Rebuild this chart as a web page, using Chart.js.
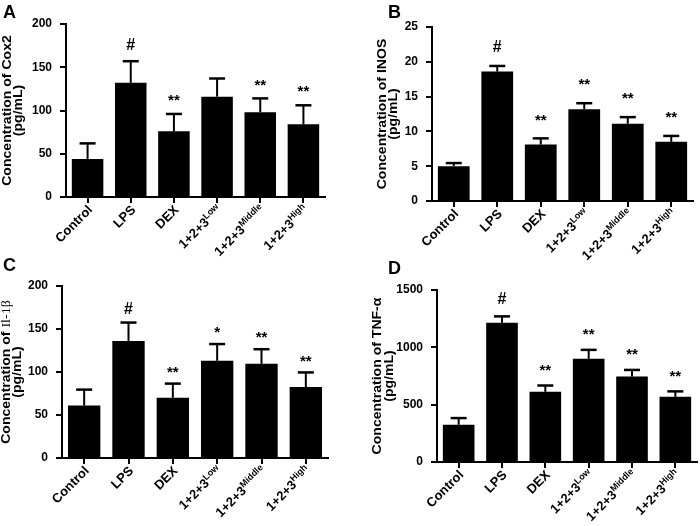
<!DOCTYPE html>
<html>
<head>
<meta charset="utf-8">
<script src="https://cdn.jsdelivr.net/npm/chart.js@4.4.0/dist/chart.umd.min.js"></script>
<style>
  body { margin: 0; background: #fff; }
  #wrap { position: relative; width: 700px; height: 526px; }
  #wrap canvas { position: absolute; }
  .tag { position: absolute; font: bold 18px "Liberation Sans", Arial, sans-serif; line-height: 1; color: #000; }
</style>
</head>
<body>
<div id="wrap">
  <canvas id="cA" width="350" height="263" style="left:0;top:0"></canvas>
  <canvas id="cB" width="350" height="263" style="left:350px;top:0"></canvas>
  <canvas id="cC" width="350" height="263" style="left:0;top:263px"></canvas>
  <canvas id="cD" width="350" height="263" style="left:350px;top:263px"></canvas>
  <div class="tag" style="left:3px;top:3px">A</div>
  <div class="tag" style="left:388px;top:3px">B</div>
  <div class="tag" style="left:3px;top:256px">C</div>
  <div class="tag" style="left:388px;top:259px">D</div>
</div>
<script>
//groups on the x axis, the dose goes in superscript
const categories = ['Control', 'LPS', 'DEX', '1+2+3', '1+2+3', '1+2+3'];
const dose = ['', '', '', 'Low', 'Middle', 'High'];

//A - Cox2
const cox2Mean = [44, 132, 76, 116, 98, 84];
const cox2Err = [18, 25, 20, 21, 16, 22];
const cox2Sig = ['', '#', '**', '', '**', '**'];

//B - INOS
const inosMean = [5.0, 18.6, 8.1, 13.2, 11.1, 8.5];
const inosErr = [0.45, 0.8, 0.9, 0.85, 0.95, 0.85];
const inosSig = ['', '#', '**', '**', '**', '**'];

//C - Il-1b
const il1bMean = [61, 136, 70, 113, 109.5, 82.5];
const il1bErr = [18.5, 21.5, 16.5, 19.5, 17, 17];
const il1bSig = ['', '#', '**', '*', '**', '**'];

//D - TNF-a
const tnfMean = [325, 1215, 612, 900, 745, 568];
const tnfErr = [58, 55, 55, 78, 58, 48];
const tnfSig = ['', '#', '**', '**', '**', '**'];

const FONT = '"Liberation Sans", Arial, sans-serif';
const TITLE_FONT = 'bold 12px ' + FONT;
const TICK_LEN = 6;

//one entry per panel, the layout numbers place the plot area inside its canvas
const panels = [
    { id: 'cA', mean: cox2Mean, err: cox2Err, sig: cox2Sig, max: 200, step: 50,
      title: [[{ t: 'Concentration of Cox2', f: TITLE_FONT }], [{ t: '(pg/mL)', f: TITLE_FONT }]],
      titleX: [8, 19], left: 66, top: 24, right: 325, bottom: 197, hashGap: 16, starGap: 15 },
    { id: 'cB', mean: inosMean, err: inosErr, sig: inosSig, max: 25, step: 5,
      title: [[{ t: 'Concentration of INOS', f: TITLE_FONT }], [{ t: '(pg/mL)', f: TITLE_FONT }]],
      titleX: [33, 44], left: 82, top: 27, right: 343, bottom: 201, hashGap: 18, starGap: 20 },
    { id: 'cC', mean: il1bMean, err: il1bErr, sig: il1bSig, max: 200, step: 50,
      title: [[{ t: 'Concentration of ', f: TITLE_FONT }, { t: 'Il-1β', f: '12px "Liberation Serif", "Times New Roman", serif' }],
              [{ t: '(pg/mL)', f: TITLE_FONT }]],
      titleX: [7, 18], left: 62, top: 23, right: 328, bottom: 195, hashGap: 13, starGap: 13 },
    { id: 'cD', mean: tnfMean, err: tnfErr, sig: tnfSig, max: 1500, step: 500,
      title: [[{ t: 'Concentration of TNF-α', f: TITLE_FONT }], [{ t: '(pg/mL)', f: TITLE_FONT }]],
      titleX: [28, 40], left: 87, top: 27, right: 347, bottom: 199, hashGap: 17, starGap: 17 },
];

//draws a line made of pieces with different fonts, centered on x=0
const drawSegments = (ctx, segs) => {
    let total = 0;
    segs.forEach((s) => { ctx.font = s.f; total += ctx.measureText(s.t).width; });
    let x = -total / 2;
    segs.forEach((s) => {
        ctx.font = s.f;
        ctx.fillText(s.t, x, 0);
        x += ctx.measureText(s.t).width;
    });
};

//error bars, stars, tick marks, rotated x labels with superscript and the y title
const decorPlugin = {
    id: 'decor',
    afterDatasetsDraw(chart, args, opts) {
        const p = opts.panel;
        const ctx = chart.ctx;
        const yScale = chart.scales.y;
        const meta = chart.getDatasetMeta(0);
        ctx.save();
        ctx.strokeStyle = '#000';
        ctx.fillStyle = '#000';
        meta.data.forEach((bar, i) => {
            const top = yScale.getPixelForValue(p.mean[i]);
            const errTop = yScale.getPixelForValue(p.mean[i] + p.err[i]);
            ctx.lineWidth = 2;
            ctx.beginPath();
            ctx.moveTo(bar.x, top);
            ctx.lineTo(bar.x, errTop);
            ctx.stroke();
            ctx.lineWidth = 2.5;
            ctx.beginPath();
            ctx.moveTo(bar.x - 8, errTop);
            ctx.lineTo(bar.x + 8, errTop);
            ctx.stroke();

            const s = p.sig[i];
            if (s) {
                ctx.textAlign = 'center';
                ctx.textBaseline = 'middle';
                if (s === '#') {
                    ctx.font = 'bold 16px ' + FONT;
                    ctx.fillText(s, bar.x, errTop - p.hashGap);
                } else {
                    ctx.font = 'bold 15px ' + FONT;
                    ctx.fillText(s, bar.x, errTop - p.starGap + 2);
                }
            }
        });
        ctx.restore();
    },
    afterDraw(chart, args, opts) {
        const p = opts.panel;
        const ctx = chart.ctx;
        const xScale = chart.scales.x;
        const yScale = chart.scales.y;
        const area = chart.chartArea;
        const axisY = area.bottom;
        ctx.save();
        ctx.strokeStyle = '#000';
        ctx.fillStyle = '#000';

        //tick marks on both axes
        ctx.lineWidth = 2;
        ctx.beginPath();
        yScale.ticks.forEach((t) => {
            const y = Math.round(yScale.getPixelForValue(t.value));
            ctx.moveTo(area.left - TICK_LEN, y);
            ctx.lineTo(area.left, y);
        });
        categories.forEach((c, i) => {
            const x = Math.round(xScale.getPixelForValue(i));
            ctx.moveTo(x, axisY);
            ctx.lineTo(x, axisY + TICK_LEN);
        });
        ctx.stroke();

        ctx.textBaseline = 'middle';
        ctx.textAlign = 'left';
        categories.forEach((c, i) => {
            const x = xScale.getPixelForValue(i);
            ctx.save();
            ctx.translate(x + 3, axisY + 11);
            ctx.rotate(-Math.PI / 4);
            ctx.font = 'bold 13px ' + FONT;
            const wBase = ctx.measureText(c).width;
            ctx.font = 'bold 9px ' + FONT;
            const wSup = dose[i] ? ctx.measureText(dose[i]).width : 0;
            ctx.font = 'bold 13px ' + FONT;
            ctx.fillText(c, -(wBase + wSup), 0);
            if (dose[i]) {
                ctx.font = 'bold 9px ' + FONT;
                ctx.fillText(dose[i], -wSup, -4);
            }
            ctx.restore();
        });

        //y title, two lines rotated and stretched a little along the text
        const midY = (area.top + area.bottom) / 2;
        ctx.textBaseline = 'middle';
        p.title.forEach((line, k) => {
            ctx.save();
            ctx.translate(p.titleX[k], midY);
            ctx.rotate(-Math.PI / 2);
            ctx.scale(1.17, 1);
            drawSegments(ctx, line);
            ctx.restore();
        });
        ctx.restore();
    },
};

const makeChart = (p) => {
    const canvas = document.getElementById(p.id);
    return new Chart(canvas, {
        type: 'bar',
        data: {
            labels: categories.map((c, i) => dose[i] ? c + ' ' + dose[i] : c),
            datasets: [{
                data: p.mean,
                backgroundColor: '#000',
                borderWidth: 0,
                barPercentage: 0.73,
                categoryPercentage: 1,
            }],
        },
        plugins: [decorPlugin],
        options: {
            responsive: false,
            animation: false,
            layout: { padding: { left: 0, top: p.top, right: 350 - p.right, bottom: 0 } },
            plugins: {
                legend: { display: false },
                tooltip: { enabled: false },
                decor: { panel: p },
            },
            scales: {
                x: {
                    offset: true,
                    grid: { display: false },
                    border: { color: '#000', width: 2 },
                    ticks: { display: false },
                    afterFit: (scale) => { scale.height = 263 - p.bottom; },
                },
                y: {
                    min: 0,
                    max: p.max,
                    grid: { display: false },
                    border: { color: '#000', width: 2 },
                    ticks: {
                        stepSize: p.step,
                        color: '#000',
                        padding: TICK_LEN,
                        font: { family: FONT, size: 12, weight: 'bold' },
                        callback: (v) => String(v),
                    },
                    afterFit: (scale) => { scale.width = p.left; },
                },
            },
        },
    });
};

panels.forEach(makeChart);
</script>
</body>
</html>
